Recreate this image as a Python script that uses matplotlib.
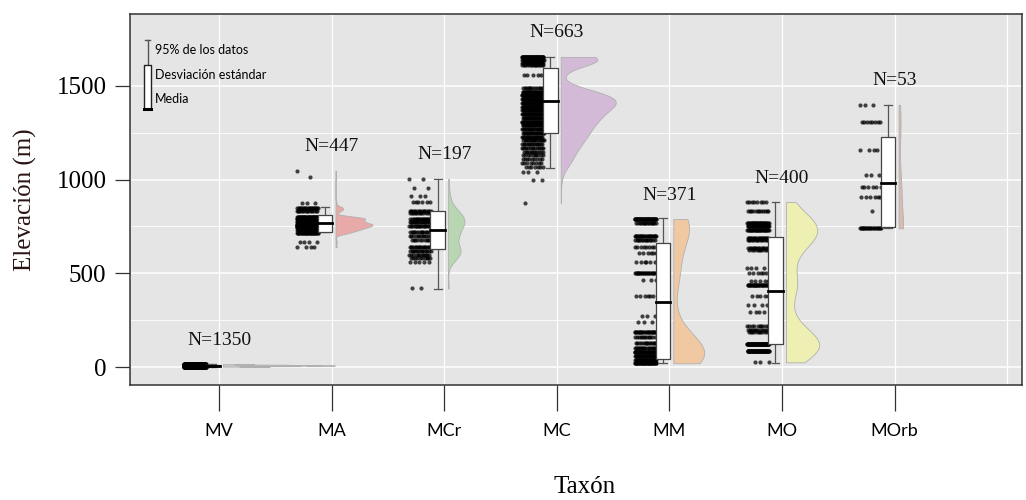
"""Elevación por taxón: puntos, caja (media +/- DE, 95%) y medio violín."""
import numpy as np
import matplotlib.pyplot as plt

taxa = ['MV', 'MA', 'MCr', 'MC', 'MM', 'MO', 'MOrb']
n_obs = [1350, 447, 197, 663, 371, 400, 53]
colors = ['#c8c8c8', '#e8a9a9', '#b9d6b2', '#d3bad6', '#f0c9a2', '#eeefb2', '#d9bcb0']

# elevation levels (m) and how many records sit on each level
mv_elev = [2, 5, 8, 10, 12, 15]
mv_count = [150, 250, 350, 300, 200, 100]
ma_elev = [1048, 1016, 877, 850, 835, 800, 790, 775, 760, 745, 730, 715, 669, 641]
ma_count = [1, 1, 3, 20, 15, 40, 60, 60, 89, 70, 50, 30, 4, 4]
mcr_elev = [1004, 955, 915, 880, 835, 820, 790, 775, 750, 720, 700, 680,
            640, 620, 600, 580, 560, 420]
mcr_count = [2, 2, 3, 6, 15, 12, 20, 20, 18, 15, 12, 10, 18, 15, 12, 10, 5, 2]
mc_elev = [1655, 1640, 1625, 1610, 1560, 1490, 1470, 1450, 1430, 1410, 1390,
           1370, 1350, 1330, 1310, 1290, 1270, 1250, 1230, 1210, 1190, 1170,
           1150, 1130, 1110, 1090, 1070, 1040, 1000, 875]
mc_count = [55, 30, 25, 15, 5, 15, 30, 40, 46, 46, 40, 36, 32, 30, 28, 25, 23,
            22, 20, 18, 16, 14, 12, 10, 9, 8, 7, 3, 2, 1]
mm_elev = [790, 770, 700, 680, 640, 610, 560, 500, 465, 380, 270, 240, 185,
           160, 130, 100, 80, 60, 40, 20]
mm_count = [45, 15, 25, 15, 8, 6, 6, 22, 3, 6, 3, 3, 25, 12, 15, 20, 40, 35, 30, 37]
mo_elev = [880, 830, 770, 750, 730, 690, 680, 635, 625, 530, 500, 460, 440,
           380, 330, 295, 220, 200, 185, 125, 85, 25]
mo_count = [8, 12, 30, 35, 30, 20, 15, 15, 10, 4, 6, 5, 30, 5, 4, 4, 10, 12, 10,
            70, 62, 3]
morb_elev = [1399, 1310, 1160, 1025, 960, 910, 830, 740]
morb_count = [3, 8, 4, 3, 6, 6, 1, 22]

# summary shown by the boxes: 2.5%, mean-SD, mean, mean+SD, 97.5%
whisk_lo = [2, 718, 418, 1064, 23, 23, 742]
box_lo = [4, 721, 630, 1249, 43, 123, 747]
means = [8, 769, 731, 1422, 349, 407, 984]
box_hi = [12, 811, 834, 1596, 662, 696, 1228]
whisk_hi = [15, 854, 1004, 1655, 795, 883, 1399]

levels = [(mv_elev, mv_count), (ma_elev, ma_count), (mcr_elev, mcr_count),
          (mc_elev, mc_count), (mm_elev, mm_count), (mo_elev, mo_count),
          (morb_elev, morb_count)]

serif = ['Liberation Serif', 'DejaVu Serif']
sans = ['Lato', 'DejaVu Sans']

fig = plt.figure(figsize=(10.26, 5.0), dpi=100)
ax = fig.add_axes([0.1267, 0.23, 0.8693, 0.742])
ax.set_facecolor('#e5e5e5')
ax.set_xlim(0.21, 8.13)
ax.set_ylim(-96, 1884)

for y in [0, 500, 1000, 1500]:
    ax.axhline(y, color='white', lw=1.1, zorder=0)
for y in [250, 750, 1250]:
    ax.axhline(y, color='white', lw=0.6, zorder=0)
for x in range(1, 9):
    ax.axvline(x, color='white', lw=0.9, zorder=0)

vmax_per_n = 0.995 / 1350
for i, (elev, cnt) in enumerate(levels):
    pos = i + 1
    data = np.repeat(np.array(elev, float), cnt)

    # jittered points (low-discrepancy spread across the strip)
    k = np.arange(len(data))
    jit = (k * 0.6180339887) % 1.0
    ax.scatter(pos - 0.31 + 0.195 * jit, data, s=9, color='black', alpha=0.72,
               lw=0, zorder=3)

    # half violin
    sd = data.std(ddof=1)
    q75, q25 = np.percentile(data, [75, 25])
    spread = min(sd, (q75 - q25) / 1.34) if q75 > q25 else sd
    bw = 0.9 * spread * len(data) ** -0.2
    grid = np.linspace(data.min(), data.max(), 300)
    dens = np.exp(-0.5 * ((grid[:, None] - data[None, :]) / bw) ** 2).sum(axis=1)
    width = dens / dens.max() * n_obs[i] * vmax_per_n
    x0 = pos + 0.035
    ax.fill_betweenx(grid, x0, x0 + width, facecolor=colors[i],
                     edgecolor='#b0b0b0', lw=0.6, zorder=2)

    # box: whiskers = 95 %, box = mean +/- SD, line = mean
    bc = pos - 0.058
    hw = 0.065
    ax.plot([bc, bc], [whisk_lo[i], whisk_hi[i]], color='#555555', lw=0.9, zorder=4)
    ax.plot([bc - 0.035, bc + 0.035], [whisk_hi[i]] * 2, color='#555555', lw=0.9, zorder=4)
    ax.plot([bc - 0.035, bc + 0.035], [whisk_lo[i]] * 2, color='#555555', lw=0.9, zorder=4)
    ax.fill_between([bc - hw, bc + hw], box_lo[i], box_hi[i], facecolor='white',
                    edgecolor='#444444', lw=0.9, zorder=5)
    ax.plot([bc - hw, bc + hw], [means[i]] * 2, color='black', lw=2.0, zorder=6)

    ax.text(pos, data.max() + 128, 'N=%d' % n_obs[i], ha='center', va='center',
            fontsize=14, family=serif, color='#111111', zorder=7)

# legend glyph
lg = dict(transform=ax.transAxes, zorder=8)
ax.plot([0.0197, 0.0197], [0.745, 0.931], color='#555555', lw=1.0, **lg)
ax.plot([0.0167, 0.0227], [0.931, 0.931], color='#555555', lw=1.0, **lg)
ax.fill_between([0.0157, 0.0237], 0.745, 0.863, facecolor='white',
                edgecolor='#222222', lw=1.0, **lg)
ax.plot([0.0157, 0.0237], [0.745, 0.745], color='black', lw=2.2, **lg)
for yy, txt in [(0.903, '95% de los datos'), (0.836, 'Desviación estándar'),
                (0.771, 'Media')]:
    ax.text(0.028, yy, txt, fontsize=9, family=sans, va='center', **lg)

for s in ax.spines.values():
    s.set_color('#333333')
    s.set_linewidth(1.1)

ax.set_yticks([0, 500, 1000, 1500])
ax.set_yticklabels(['0', '500', '1000', '1500'], family=serif, fontsize=18)
ax.set_xticks(range(1, 8))
ax.set_xticklabels(taxa, family=sans, fontsize=13)
ax.tick_params(axis='y', length=11, width=0.9, color='#333333', pad=6)
ax.tick_params(axis='x', length=19, width=0.9, color='#333333', pad=8)

ax.set_ylabel('Elevación (m)', family=serif, fontsize=18, color='#2a1414', labelpad=14)
ax.set_xlabel('Taxón', family=serif, fontsize=18)
ax.xaxis.set_label_coords(0.51, -0.245)

fig.savefig('out.png', dpi=100)
